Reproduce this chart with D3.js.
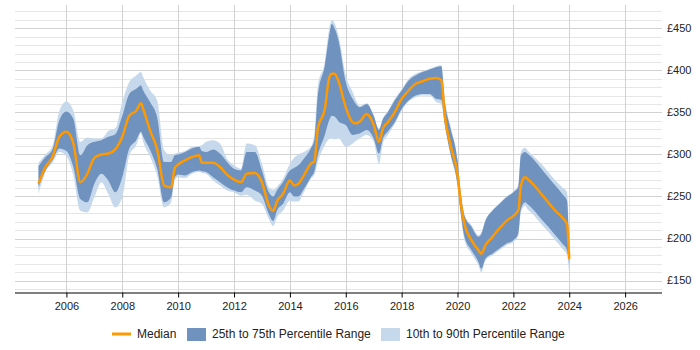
<!DOCTYPE html>
<html><head><meta charset="utf-8">
<script src="https://cdn.jsdelivr.net/npm/d3@7"></script>
<style>body{margin:0;background:#fff}svg{display:block;font-family:Arial,"Liberation Sans",sans-serif}</style>
</head><body><svg id="c" width="700" height="350"></svg>
<script>
const years = [2005.00,2005.25,2005.50,2005.75,2006.00,2006.25,2006.50,2006.75,2007.00,2007.25,2007.50,2007.75,2008.00,2008.25,2008.50,2008.67,2008.75,2009.00,2009.25,2009.50,2009.75,2009.88,
2010.00,2010.25,2010.50,2010.75,2010.85,2011.00,2011.25,2011.50,2011.75,2012.00,2012.25,2012.45,2012.75,2013.00,2013.25,2013.40,2013.55,2013.75,2014.00,2014.15,2014.30,2014.50,2014.75,2014.88,
2015.00,2015.25,2015.40,2015.50,2015.60,2015.75,2016.00,2016.25,2016.36,2016.50,2016.75,2017.00,2017.19,2017.33,2017.50,2017.75,2018.00,2018.25,2018.50,2018.75,2019.00,2019.25,2019.42,2019.55,2019.75,
2020.00,2020.12,2020.25,2020.50,2020.75,2020.85,2021.00,2021.25,2021.50,2021.75,2022.00,2022.18,2022.27,2022.42,2022.50,2022.75,2023.00,2023.25,2023.50,2023.75,2023.92,2024.00];
const median = [265,285,297,321,327,313,267,277,296,300,301,306,321,346,352,361,354,328,306,263,261,284,
288,293,297,299,290,290,290,285,276,270,267,277,278,267,239,233,245,253,269,263,265,275,289,292,
331,354,390,396,396,386,356,338,337,339,348,335,315,331,338,350,366,376,384,387,390,391,388,345,311,
276,241,217,198,186,182,192,202,212,221,227,234,263,273,271,263,253,243,233,225,217,176];
const p25 = [261,281,293,307,304,285,247,243,265,277,269,255,273,307,317,327,321,305,283,243,249,273,
276,275,279,281,280,279,273,267,261,257,255,261,257,251,229,221,234,241,255,250,250,259,273,280,
299,323,340,346,345,339,335,323,324,325,329,319,301,319,327,338,354,364,370,372,372,366,365,335,301,
265,229,202,186,172,164,176,182,188,194,198,206,235,243,241,233,223,214,204,194,186,170];
const p75 = [286,297,306,341,351,342,299,311,315,317,321,324,346,372,378,382,376,362,344,291,291,299,
300,303,307,309,304,303,306,301,291,283,281,303,303,281,255,250,258,267,281,284,287,295,307,318,
370,406,440,455,450,434,386,366,360,356,360,346,329,342,350,364,376,388,394,398,401,404,405,362,331,
293,253,227,214,202,205,221,233,241,249,255,262,299,303,301,293,283,273,263,253,245,190];
const p10 = [253,279,290,303,298,275,233,231,249,267,253,237,249,299,311,325,315,297,275,237,243,270,
273,272,277,279,278,277,269,263,257,255,251,252,245,241,223,215,226,233,245,244,244,255,271,276,
291,311,318,319,318,319,309,313,316,319,323,315,289,313,323,336,352,363,368,370,370,362,360,333,299,
263,227,198,182,168,160,174,180,186,192,196,204,231,239,235,227,217,208,198,188,180,158];
const p90 = [290,300,310,352,363,352,315,320,319,319,328,331,362,386,394,398,392,376,364,305,299,301,
302,304,309,310,311,315,317,313,295,287,283,313,311,289,261,258,262,271,289,296,300,303,309,325,
382,410,448,460,456,440,394,374,365,358,361,347,331,343,351,366,377,390,396,399,402,405,406,364,333,
295,255,229,216,204,207,222,234,242,250,256,263,303,308,305,297,289,279,269,261,255,192];
const xTicks = [2006,2008,2010,2012,2014,2016,2018,2020,2022,2024,2026];
const yTicks = [150,200,250,300,350,400,450];
const legendLabels = ["Median","25th to 75th Percentile Range","10th to 90th Percentile Range"];

const svg = d3.select("#c");
const x = d3.scaleLinear().domain([2004.16, 2027.32]).range([15, 662]);
const y = d3.scaleLinear().domain([135.8, 477.7]).range([292.5, 5]);
const data = years.map((t,i)=>({t, m:median[i], a:p25[i], b:p75[i], c:p10[i], d:p90[i]}));

const g = svg.append("g");
g.selectAll(".mn").data(d3.range(140, 471, 10).filter(v=>v%50!==0)).join("line")
  .attr("x1",15).attr("x2",662).attr("y1",d=>Math.round(y(d))+0.5).attr("y2",d=>Math.round(y(d))+0.5)
  .attr("stroke","#e6e6e6").attr("stroke-width",1);
g.selectAll(".mj").data(yTicks).join("line")
  .attr("x1",15).attr("x2",662).attr("y1",d=>Math.round(y(d))+0.5).attr("y2",d=>Math.round(y(d))+0.5)
  .attr("stroke","#d2d2d2").attr("stroke-width",1);
g.selectAll(".vg").data(xTicks).join("line")
  .attr("x1",d=>Math.round(x(d))+0.5).attr("x2",d=>Math.round(x(d))+0.5).attr("y1",5).attr("y2",292)
  .attr("stroke","#d2d2d2").attr("stroke-width",1);

const curve = d3.curveMonotoneX;
const area90 = d3.area().curve(curve).x(d=>x(d.t)).y0(d=>y(d.c)).y1(d=>y(d.d));
const area75 = d3.area().curve(curve).x(d=>x(d.t)).y0(d=>y(d.a)).y1(d=>y(d.b));
const line = d3.line().curve(curve).x(d=>x(d.t)).y(d=>y(d.m));
svg.append("path").datum(data).attr("d",area90).attr("fill","#c6d9ec");
svg.append("path").datum(data).attr("d",area75).attr("fill","#7092be");
svg.append("path").datum(data).attr("d",line).attr("fill","none").attr("stroke","#ff9900").attr("stroke-width",2.5).attr("stroke-linejoin","round");

const xa = svg.append("g").attr("transform","translate(0,292.5)")
  .call(d3.axisBottom(x).tickValues(xTicks).tickFormat(d3.format("d")).tickSize(5).tickSizeOuter(0));
xa.select(".domain").attr("stroke","#000").attr("d","M15,0.5H662");
xa.selectAll(".tick line").attr("stroke","#000");
xa.selectAll("text").attr("font-size",11).attr("fill","#222").attr("font-family","Arial, 'Liberation Sans', sans-serif").attr("dy","0.85em");

svg.selectAll(".yl").data(yTicks).join("text")
  .attr("x",667).attr("y",d=>y(d)).attr("dy","0.35em").attr("font-size",11).attr("fill","#222")
  .text(d=>"£"+d);

const lg = svg.append("g");
lg.append("line").attr("x1",112).attr("x2",131).attr("y1",334).attr("y2",334).attr("stroke","#ff9900").attr("stroke-width",3);
lg.append("text").attr("x",137).attr("y",334).attr("dy","0.35em").attr("font-size",12).attr("fill","#222").text(legendLabels[0]);
lg.append("rect").attr("x",187).attr("y",328).attr("width",19).attr("height",13).attr("fill","#7092be");
lg.append("text").attr("x",212).attr("y",334).attr("dy","0.35em").attr("font-size",12).attr("fill","#222").text(legendLabels[1]);
lg.append("rect").attr("x",381).attr("y",328).attr("width",19).attr("height",13).attr("fill","#c6d9ec");
lg.append("text").attr("x",406).attr("y",334).attr("dy","0.35em").attr("font-size",12).attr("fill","#222").text(legendLabels[2]);
</script></body></html>
